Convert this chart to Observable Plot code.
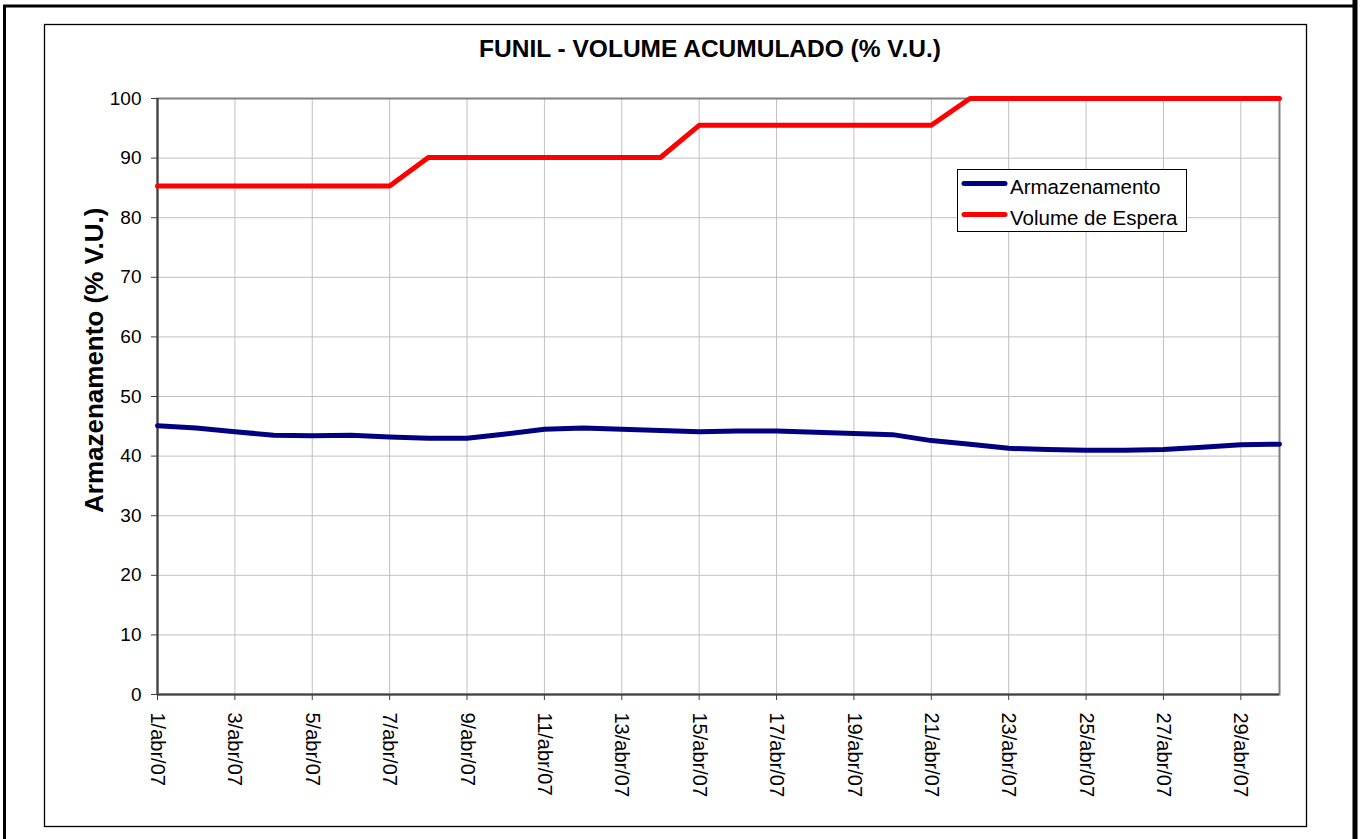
<!DOCTYPE html>
<html>
<head>
<meta charset="utf-8">
<script src="https://cdn.jsdelivr.net/npm/d3@7"></script>
<script src="https://cdn.jsdelivr.net/npm/@observablehq/plot@0.6"></script>
<style>
  html, body { margin: 0; padding: 0; background: #fff; }
  #chart svg { display: block; }
</style>
</head>
<body>
<div id="chart"></div>
<script>
const days = d3.range(1, 31);
const armazenamento = [45.1, 44.7, 44.1, 43.5, 43.4, 43.5, 43.2, 43.0, 43.0, 43.7,
                       44.5, 44.7, 44.5, 44.3, 44.1, 44.2, 44.2, 44.0, 43.8, 43.6,
                       42.6, 42.0, 41.3, 41.1, 41.0, 41.0, 41.1, 41.5, 41.9, 42.0];
const volumeEspera = [85.3, 85.3, 85.3, 85.3, 85.3, 85.3, 85.3, 90.1, 90.1, 90.1,
                      90.1, 90.1, 90.1, 90.1, 95.5, 95.5, 95.5, 95.5, 95.5, 95.5,
                      95.5, 100, 100, 100, 100, 100, 100, 100, 100, 100];
const tickDays = d3.range(1, 30, 2);
const yTicks = d3.range(0, 101, 10);
const seriesNames = ["Armazenamento", "Volume de Espera"];
const seriesColors = ["#000080", "#ff0000"];
const titleText = "FUNIL - VOLUME ACUMULADO (% V.U.)";
const yLabel = "Armazenamento (% V.U.)";

const date = d => new Date(Date.UTC(2007, 3, d));
const rows = [];
days.forEach((d, i) => {
  rows.push({date: date(d), value: armazenamento[i], series: seriesNames[0]});
});
days.forEach((d, i) => {
  rows.push({date: date(d), value: volumeEspera[i], series: seriesNames[1]});
});
const xTicks = tickDays.map(date);
const font = "Liberation Sans, Arial, sans-serif";

const chart = Plot.plot({
  width: 1360,
  height: 839,
  marginLeft: 157,
  marginRight: 81,
  marginTop: 98,
  marginBottom: 145,
  style: {fontFamily: font, fontSize: "19px", color: "#000", background: "#fff"},
  x: {type: "utc", domain: [date(1), date(30)]},
  y: {domain: [0, 100]},
  color: {domain: seriesNames, range: seriesColors},
  marks: [
    Plot.gridY(yTicks, {stroke: "#c0c0c0", strokeOpacity: 1, strokeWidth: 1}),
    Plot.gridX(xTicks, {stroke: "#c0c0c0", strokeOpacity: 1, strokeWidth: 1}),
    Plot.frame({stroke: "#808080", strokeWidth: 2}),
    Plot.axisY(yTicks, {tickSize: 6, tickPadding: 10, fontSize: 19, label: null, stroke: "#404040"}),
    Plot.axisX(xTicks, {tickSize: 6, tickPadding: 12, tickRotate: 90, fontSize: 20, label: null,
      stroke: "#404040", tickFormat: d => `${d.getUTCDate()}/abr/07`}),
    Plot.ruleX([date(1)], {stroke: "#404040", strokeWidth: 2}),
    Plot.ruleY([0], {stroke: "#404040", strokeWidth: 2}),
    Plot.line(rows, {x: "date", y: "value", stroke: "series", strokeWidth: 5, curve: "linear"})
  ]
});

const svg = d3.select(chart);
// outer frames
svg.append("rect").attr("x", 4.5).attr("y", 6).attr("width", 1350).attr("height", 900)
  .attr("fill", "none").attr("stroke", "#000").attr("stroke-width", 3);
svg.append("line").attr("x1", 1355).attr("x2", 1355).attr("y1", 0).attr("y2", 839)
  .attr("stroke", "#000").attr("stroke-width", 5);
svg.append("rect").attr("x", 44.5).attr("y", 24.5).attr("width", 1262).attr("height", 802)
  .attr("fill", "none").attr("stroke", "#000").attr("stroke-width", 1.3);
// title
svg.append("text").attr("x", 710).attr("y", 56.5).attr("text-anchor", "middle")
  .attr("font-family", font).attr("font-weight", "bold").attr("font-size", 24.5)
  .text(titleText);
// y label
svg.append("text").attr("transform", "translate(103,513) rotate(-90)").attr("text-anchor", "start")
  .attr("font-family", font).attr("font-weight", "bold").attr("font-size", 26)
  .text(yLabel);
// legend
const lg = svg.append("g").attr("text-anchor", "start");
lg.append("rect").attr("x", 957.5).attr("y", 169.5).attr("width", 229).attr("height", 62)
  .attr("fill", "#fff").attr("stroke", "#000").attr("stroke-width", 1);
seriesNames.forEach((s, i) => {
  const yy = 183.5 + i * 31;
  lg.append("line").attr("x1", 964).attr("x2", 1005).attr("y1", yy).attr("y2", yy)
    .attr("stroke", seriesColors[i]).attr("stroke-width", 5).attr("stroke-linecap", "round");
  lg.append("text").attr("x", 1010).attr("y", yy + 10.5).attr("font-family", font)
    .attr("text-anchor", "start").attr("font-size", 20.5).text(s);
});

document.getElementById("chart").appendChild(chart);
</script>
</body>
</html>
